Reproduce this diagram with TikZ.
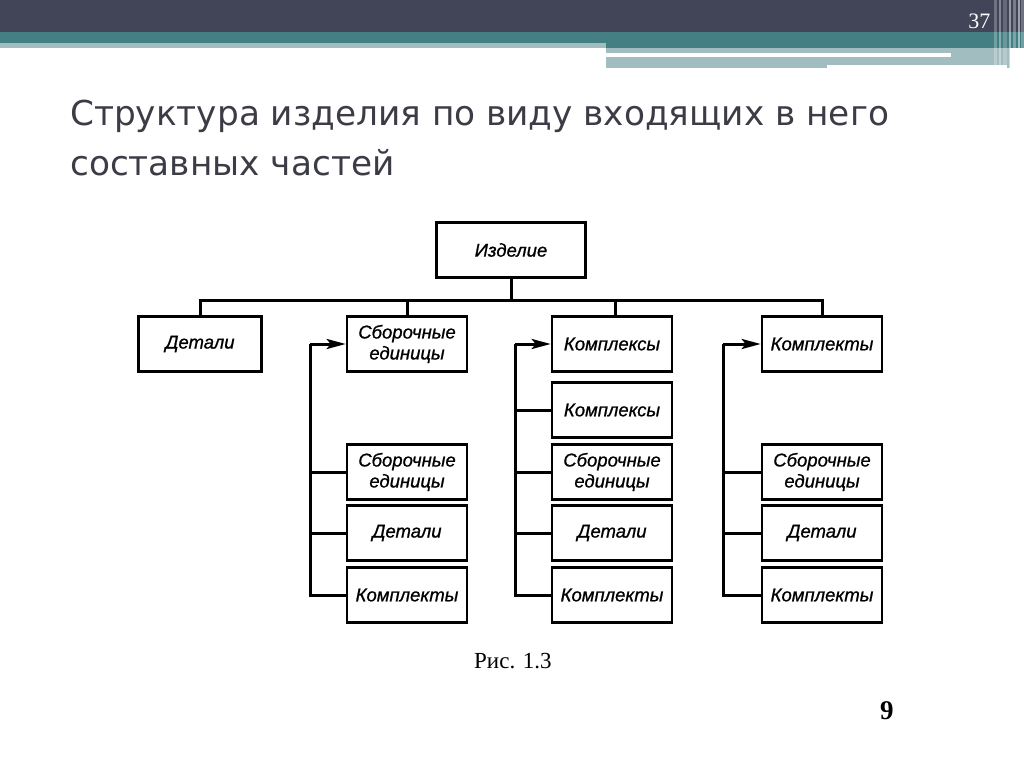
\documentclass[tikz,border=0pt]{standalone}
\usepackage{fontspec}
\setmainfont{Liberation Serif}
\newfontfamily\titlefont{DejaVu Sans}
\newfontfamily\boxfont[ItalicFeatures={FakeBold=0.9}]{Liberation Sans}
\usetikzlibrary{arrows.meta}
\definecolor{darkband}{HTML}{424458}
\definecolor{tealband}{HTML}{447F83}
\definecolor{lightteal}{HTML}{A2BDC0}
\definecolor{titlegray}{HTML}{3C3C46}
\tikzset{
  box/.style={draw=black, line width=2.6pt, minimum width=120pt, minimum height=55pt,
    inner sep=0pt, align=center, font=\boxfont\itshape\fontsize{18.5}{21}\selectfont},
  link/.style={draw=black, line width=3pt},
  arr/.style={link, -{Stealth[length=19pt,width=10pt,inset=4pt]}}
}
\begin{document}
\begin{tikzpicture}[x=1pt,y=-1pt]
\useasboundingbox (0,0) rectangle (1024,767);
% header
\fill[darkband] (0,0) rectangle (1024,32);
\fill[tealband] (0,32) rectangle (1024,43);
\fill[lightteal] (0,43) rectangle (606,48);
\fill[tealband] (606,43) rectangle (1024,48);
\fill[lightteal] (606,48) rectangle (1010,68);
\fill[white] (606,53) rectangle (951,57);
\fill[white] (827,65) rectangle (1007,68);
\foreach \xx/\ww/\op in {994/3/0.25, 999/2/0.35, 1003/4/0.2, 1009/2/0.45, 1013/3/0.3, 1018/2/0.5, 1021/3/0.25}
  \fill[white, opacity=\op] (\xx,0) rectangle (\xx+\ww,68);
\node[text=white, font=\fontsize{22}{22}\selectfont, anchor=base east] (pg) at (994,29) {37};
% title
\node[text=titlegray, anchor=base west, inner sep=0pt, font=\titlefont\fontsize{34.3}{35}\selectfont] (t1) at (70,126) {Структура изделия по виду входящих в него};
\node[text=titlegray, anchor=base west, inner sep=0pt, font=\titlefont\fontsize{34.3}{35}\selectfont] (t2) at (70,176) {составных частей};
% diagram
\node[box, minimum width=149pt] (root) at (511,250) {Изделие};
\node[box, minimum width=123pt] (d1) at (200,344) {Детали};
\node[box] (s1) at (407,344) {Сборочные\\единицы};
\node[box] (k1) at (612,344) {Комплексы};
\node[box] (m1) at (822,344) {Комплекты};
% column 2
\node[box] (s2a) at (407,472) {Сборочные\\единицы};
\node[box] (s2b) at (407,533) {Детали};
\node[box] (s2c) at (407,595) {Комплекты};
% column 3
\node[box] (k2a) at (612,410) {Комплексы};
\node[box] (k2b) at (612,472) {Сборочные\\единицы};
\node[box] (k2c) at (612,533) {Детали};
\node[box] (k2d) at (612,595) {Комплекты};
% column 4
\node[box] (m2a) at (822,472) {Сборочные\\единицы};
\node[box] (m2b) at (822,533) {Детали};
\node[box] (m2c) at (822,595) {Комплекты};
% top bus
\coordinate (bus) at (511,300);
\draw[link] (root.south) -- (bus);
\draw[link] (d1.north) |- (bus) -| (m1.north);
\draw[link] (s1.north) -- (s1.north |- bus);
\draw[link] (615,300) -- (615,316.5);
% column 2 links
\coordinate (c2) at (310,595);
\draw[link] (s2c.west) -- (c2) -- (c2 |- s1.west);
\draw[arr] (c2 |- s1.west) -- (s1.west);
\draw[link] (s2a.west) -- (c2 |- s2a.west);
\draw[link] (s2b.west) -- (c2 |- s2b.west);
% column 3 links
\coordinate (c3) at (515,595);
\draw[link] (k2d.west) -- (c3) -- (c3 |- k1.west);
\draw[arr] (c3 |- k1.west) -- (k1.west);
\draw[link] (k2a.west) -- (c3 |- k2a.west);
\draw[link] (k2b.west) -- (c3 |- k2b.west);
\draw[link] (k2c.west) -- (c3 |- k2c.west);
% column 4 links
\coordinate (c4) at (723,595);
\draw[link] (m2c.west) -- (c4) -- (c4 |- m1.west);
\draw[arr] (c4 |- m1.west) -- (m1.west);
\draw[link] (m2a.west) -- (c4 |- m2a.west);
\draw[link] (m2b.west) -- (c4 |- m2b.west);
% caption
\node[anchor=base west, inner sep=0pt, font=\fontsize{23}{23}\selectfont] (cap) at (474,668) {Рис. 1.3};
\node[anchor=base west, inner sep=0pt, font=\bfseries\fontsize{27}{27}\selectfont] (num) at (880,719) {9};
\end{tikzpicture}
\end{document}
